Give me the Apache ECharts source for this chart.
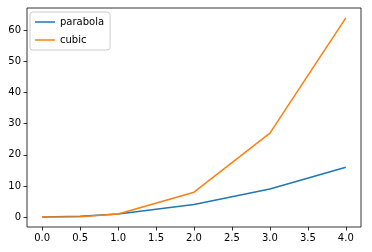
<!DOCTYPE html>
<html><head><meta charset="utf-8">
<script src="https://cdn.jsdelivr.net/npm/echarts@6/dist/echarts.min.js"></script>
<style>html,body{margin:0;padding:0;background:#fff}#c{width:372px;height:252px}</style>
</head><body><div id="c"></div>
<script>
const xValues = [0, 0.5, 1, 2, 3, 4];
const parabola = [0, 0.25, 1, 4, 9, 16];
const cubic = [0, 0.125, 1, 8, 27, 64];
const xTicks = [0, 0.5, 1, 1.5, 2, 2.5, 3, 3.5, 4];
const yTicks = [0, 10, 20, 30, 40, 50, 60];

const chart = echarts.init(document.getElementById('c'));
const font = 'DejaVu Sans';
chart.setOption({
  animation: false,
  grid: {left: 27, right: 11, top: 8, bottom: 25, show: true, borderColor: '#000', borderWidth: 0.8, backgroundColor: 'transparent'},
  legend: {
    orient: 'vertical', left: 30, top: 12, padding: [5, 6, 5, 5], itemGap: 8,
    itemWidth: 20, itemHeight: 10, borderColor: '#cccccc', borderWidth: 1, borderRadius: 3,
    backgroundColor: 'rgba(255,255,255,0.8)',
    textStyle: {fontFamily: font, fontSize: 10, color: '#000'},
    data: [{name: 'parabola', icon: 'path://M0,0 L20,0 L20,1.5 L0,1.5 Z'}, {name: 'cubic', icon: 'path://M0,0 L20,0 L20,1.5 L0,1.5 Z'}]
  },
  xAxis: {
    type: 'value', min: -0.2, max: 4.2,
    splitLine: {show: false},
    axisLine: {show: false, onZero: false},
    axisTick: {show: true, length: 3.5, lineStyle: {color: '#000', width: 0.8}, customValues: xTicks},
    axisLabel: {fontFamily: font, fontSize: 10, color: '#000', margin: 6, customValues: xTicks,
      formatter: v => v.toFixed(1)}
  },
  yAxis: {
    type: 'value', min: -3.2, max: 67.2,
    splitLine: {show: false},
    axisLine: {show: false, onZero: false},
    axisTick: {show: true, length: 3.5, lineStyle: {color: '#000', width: 0.8}, customValues: yTicks},
    axisLabel: {fontFamily: font, fontSize: 10, color: '#000', margin: 6, customValues: yTicks}
  },
  series: [
    {name: 'parabola', type: 'line', data: xValues.map((x, i) => [x, parabola[i]]), symbol: 'none',
     lineStyle: {color: '#1f77b4', width: 1.5}, itemStyle: {color: '#1f77b4'}},
    {name: 'cubic', type: 'line', data: xValues.map((x, i) => [x, cubic[i]]), symbol: 'none',
     lineStyle: {color: '#ff7f0e', width: 1.5}, itemStyle: {color: '#ff7f0e'}}
  ]
});
</script></body></html>
